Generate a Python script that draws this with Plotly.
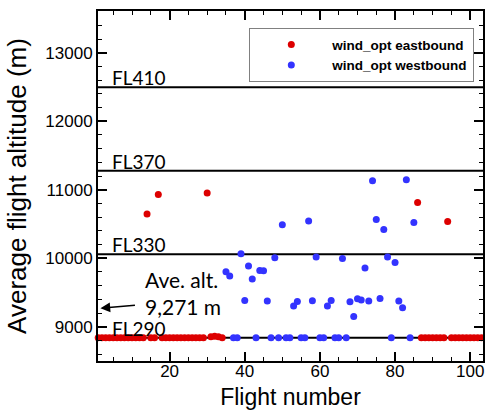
import plotly.graph_objects as go

# ---------------- data ----------------
east_flights = list(range(1, 35)) + list(range(86, 104))
east_alt = [8839, 8839, 8839, 8839, 8839, 8839, 8839, 8839, 8839, 8839,
            8839, 8839, 8839, 10645, 8839, 8839, 10931, 8839, 8839, 8839,
            8839, 8839, 8839, 8839, 8839, 8839, 8839, 8839, 8839, 10952,
            8855, 8860, 8855, 8839,
            10815, 8839, 8839, 8839, 8839, 8839, 8839, 8839, 10537, 8839,
            8839, 8839, 8839, 8839, 8839, 8839, 8839, 8839]

west_flights = list(range(35, 86))
west_alt = [9803, 9740, 8839, 8839, 10066, 9384, 9886, 9696, 8839, 9822,
            9818, 9375, 8839, 10007, 8839, 10489, 8839, 8839, 9302, 9370,
            8839, 8839, 10543, 9380, 10018, 8839, 8839, 9302, 9384, 8839,
            8839, 9997, 8839, 9365, 9150, 9409, 9390, 9857, 9375, 11131,
            10566, 9413, 10420, 10018, 8839, 9939, 9375, 9277, 11146, 8839,
            10523]

fl_levels = [8839, 10058, 11278, 12497]
fl_labels = ["FL290", "FL330", "FL370", "FL410"]

ave_alt = 9271
ave_label = "Ave. alt.<br>9,271 m"

red = "#dd0000"
blue = "#3333ff"

fig = go.Figure()

# flight level lines
for lv in fl_levels:
    fig.add_shape(type="line", xref="paper", yref="y", x0=0, x1=1, y0=lv, y1=lv,
                  line=dict(color="black", width=2), layer="below")

fig.add_trace(go.Scatter(x=east_flights, y=east_alt, mode="markers",
                         name="wind_opt eastbound",
                         marker=dict(color=red, size=7, line=dict(width=0)),
                         cliponaxis=False))
fig.add_trace(go.Scatter(x=west_flights, y=west_alt, mode="markers",
                         name="wind_opt westbound",
                         marker=dict(color=blue, size=7, line=dict(width=0)),
                         cliponaxis=False))

for lv, lab in zip(fl_levels, fl_labels):
    fig.add_annotation(x=0.03, xref="paper", y=lv, yref="y", text=lab,
                       showarrow=False, xanchor="left", yanchor="bottom",
                       yshift=-4, font=dict(family="Lato", size=19, color="black"))

# average altitude arrow
fig.add_annotation(x=1.6, y=ave_alt, xref="x", yref="y", text="",
                   showarrow=True, ax=36, ay=-3, axref="pixel", ayref="pixel",
                   arrowhead=2, arrowsize=1.3, arrowwidth=1.5, arrowcolor="black")
fig.add_annotation(x=0.118, xref="paper", y=ave_alt, yref="y", text=ave_label,
                   showarrow=False, xanchor="left", yanchor="middle", align="left",
                   yshift=15, font=dict(family="Lato", size=21, color="black"))

axis_common = dict(showline=True, linecolor="black", linewidth=2, mirror="allticks",
                   ticks="inside", ticklen=9, tickwidth=1.5, tickcolor="black",
                   showgrid=False, zeroline=False, tickformat="d",
                   tickfont=dict(family="Liberation Sans", size=17, color="black"))

fig.update_xaxes(range=[0.95, 103.4], tick0=0, dtick=20, ticklabelstandoff=-6,
                 minor=dict(dtick=5, ticks="inside", ticklen=4, tickcolor="black", tickwidth=1),
                 title=dict(text="Flight number", standoff=8,
                            font=dict(family="Liberation Sans", size=23, color="black")),
                 **axis_common)
fig.update_yaxes(range=[8500, 13610], tick0=9000, dtick=1000,
                 minor=dict(dtick=200, ticks="inside", ticklen=4, tickcolor="black", tickwidth=1),
                 title=dict(text="Average flight altitude (m)", standoff=11,
                            font=dict(family="Liberation Sans", size=26, color="black")),
                 **axis_common)

fig.update_layout(
    width=486, height=412,
    margin=dict(l=98, r=1, t=11, b=51),
    plot_bgcolor="white", paper_bgcolor="white",
    showlegend=True,
    legend=dict(x=0.393, y=0.951, xanchor="left", yanchor="top",
                bgcolor="rgba(0,0,0,0)", borderwidth=1, bordercolor="#808080",
                font=dict(family="Liberation Sans", size=13.5, color="black", weight="bold"),
                itemsizing="trace", itemwidth=72, tracegroupgap=0),
)

fig.write_html("out.html")
